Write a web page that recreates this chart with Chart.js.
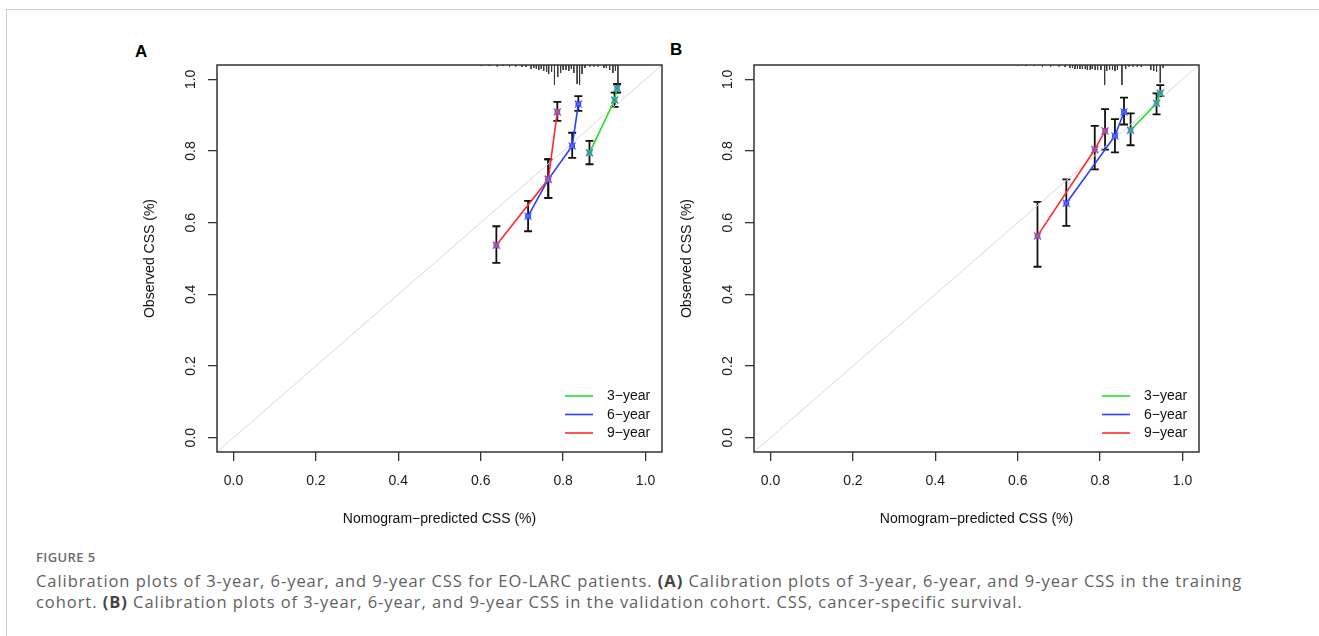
<!DOCTYPE html>
<html>
<head>
<meta charset="utf-8">
<script src="https://cdn.jsdelivr.net/npm/chart.js@4.4.0/dist/chart.umd.min.js"></script>
<style>
  html, body { margin: 0; padding: 0; background: #fff; }
  body { width: 1319px; height: 636px; position: relative; overflow: hidden; font-family: "Liberation Sans", Arial, sans-serif; }
  .frame { position: absolute; left: 6px; top: 9px; width: 1320px; height: 640px; border-top: 1px solid #cfcfcf; border-left: 1px solid #cfcfcf; }
  canvas { position: absolute; }
  .panel { position: absolute; font: bold 17px "Liberation Sans", Arial, sans-serif; color: #000; }
  .figlabel { position: absolute; left: 36px; top: 548px; font: 600 13px "Open Sans", Lato, sans-serif; color: #6b6b6b; letter-spacing: 0.4px; }
  .caption { position: absolute; left: 36px; top: 571px; font: 16.5px "Open Sans", Lato, sans-serif; color: #5f5f5f; line-height: 20.5px; white-space: nowrap; letter-spacing: 0.95px; }
  .caption b { color: #444; font-weight: 700; }
</style>
</head>
<body>
<div class="frame"></div>
<div class="panel" style="left:135px; top:42px;">A</div>
<div class="panel" style="left:670px; top:40px;">B</div>
<canvas id="cA" width="560" height="500" style="left:120px; top:30px;"></canvas>
<canvas id="cB" width="560" height="500" style="left:657px; top:30px;"></canvas>
<div class="figlabel">FIGURE 5</div>
<div class="caption">Calibration plots of 3-year, 6-year, and 9-year CSS for EO-LARC patients. <b>(A)</b> Calibration plots of 3-year, 6-year, and 9-year CSS in the training<br>cohort. <b>(B)</b> Calibration plots of 3-year, 6-year, and 9-year CSS in the validation cohort. CSS, cancer-specific survival.</div>

<script>
// ---------- data ----------
const TICK_VALUES = [0.0, 0.2, 0.4, 0.6, 0.8, 1.0];
const SERIES_LABELS = ['3\u2212year', '6\u2212year', '9\u2212year'];

// Panel A (training cohort)
const predA3 = [0.864, 0.925, 0.931];
const obsA3  = [0.795, 0.942, 0.975];
const loA3   = [0.763, 0.923, 0.963];
const hiA3   = [0.828, 0.963, 0.987];
const predA6 = [0.715, 0.764, 0.822, 0.837];
const obsA6  = [0.618, 0.721, 0.814, 0.931];
const loA6   = [0.576, 0.669, 0.781, 0.912];
const hiA6   = [0.661, 0.777, 0.851, 0.953];
const predA9 = [0.638, 0.764, 0.786];
const obsA9  = [0.537, 0.721, 0.909];
const loA9   = [0.488, 0.669, 0.884];
const hiA9   = [0.590, 0.777, 0.937];
const rugXA    = [0.60, 0.62, 0.64, 0.655, 0.67, 0.685, 0.70, 0.71, 0.722, 0.729, 0.735, 0.741, 0.747, 0.753, 0.760, 0.765, 0.772, 0.779, 0.787, 0.794, 0.800, 0.807, 0.814, 0.820, 0.826, 0.834, 0.840, 0.846, 0.853, 0.865, 0.875, 0.885, 0.899, 0.905, 0.913, 0.921, 0.927, 0.933];
const rugFreqA = [1, 1, 1.5, 1, 1.5, 1.5, 2, 2, 4, 3, 4, 5, 4, 6, 7, 9, 7, 20, 12, 8, 5, 5, 6, 4, 8, 19, 20, 9, 3, 1.5, 1.5, 1.5, 3, 3, 5, 8, 6, 22];

// Panel B (validation cohort)
const predB3 = [0.874, 0.937, 0.946];
const obsB3  = [0.858, 0.933, 0.961];
const loB3   = [0.816, 0.902, 0.953];
const hiB3   = [0.905, 0.961, 0.984];
const predB6 = [0.718, 0.836, 0.858];
const obsB6  = [0.654, 0.842, 0.909];
const loB6   = [0.591, 0.796, 0.874];
const hiB6   = [0.721, 0.889, 0.949];
const predB9 = [0.648, 0.787, 0.812];
const obsB9  = [0.563, 0.804, 0.856];
const loB9   = [0.477, 0.749, 0.804];
const hiB9   = [0.658, 0.870, 0.917];
const rugXB    = [0.60, 0.62, 0.64, 0.66, 0.68, 0.70, 0.715, 0.727, 0.733, 0.739, 0.745, 0.751, 0.757, 0.764, 0.769, 0.776, 0.781, 0.788, 0.794, 0.802, 0.811, 0.816, 0.823, 0.830, 0.836, 0.842, 0.853, 0.862, 0.87, 0.88, 0.89, 0.90, 0.923, 0.930, 0.937, 0.946, 0.953];
const rugFreqB = [1, 1, 1, 1.5, 1.5, 1.5, 2, 3, 3, 4, 4, 4, 4, 4, 5, 5, 4, 5, 5, 5, 20, 6, 5, 5, 6, 5, 20, 4, 1.5, 1.5, 1.5, 2, 5, 6, 7, 18, 3];

// ---------- styling ----------
const AX_MIN = -0.04, AX_MAX = 1.04;
const COLORS = ['#22e022', '#2a3cff', '#ff2a2a'];
const XMARK_COLOR = '#5a6dff';
const FONT = '"Liberation Sans", Arial, sans-serif';
const RUG_UNIT = 1 / 358;

function pts(xs, ys) { return xs.map((x, i) => ({ x: x, y: ys[i] })); }

const boxPlugin = {
  id: 'rbox',
  afterDraw(chart) {
    const { ctx, chartArea: a } = chart;
    ctx.save();
    ctx.strokeStyle = '#333';
    ctx.lineWidth = 1.5;
    ctx.strokeRect(a.left, a.top, a.right - a.left, a.bottom - a.top);
    ctx.restore();
  }
};

const yLabelPlugin = {
  id: 'ylabels',
  afterDraw(chart) {
    const { ctx, chartArea: a } = chart;
    const ys = chart.scales.y;
    ctx.save();
    ctx.fillStyle = '#1a1a1a';
    ctx.font = '14px ' + FONT;
    ctx.textAlign = 'center';
    ctx.textBaseline = 'middle';
    TICK_VALUES.forEach(v => {
      const py = ys.getPixelForValue(v);
      ctx.save();
      ctx.translate(a.left - 26, py);
      ctx.rotate(-Math.PI / 2);
      ctx.fillText(v.toFixed(1), 0, 0);
      ctx.restore();
    });
    ctx.restore();
  }
};

const errPlugin = {
  id: 'errbars',
  beforeDatasetsDraw(chart, args, opts) {
    const { ctx } = chart;
    const xs = chart.scales.x, ys = chart.scales.y;
    ctx.save();
    ctx.strokeStyle = '#111';
    ctx.lineWidth = 1.8;
    (opts.sets || []).forEach(s => {
      s.x.forEach((xv, i) => {
        const px = xs.getPixelForValue(xv);
        const p1 = ys.getPixelForValue(s.lo[i]);
        const p2 = ys.getPixelForValue(s.hi[i]);
        ctx.beginPath();
        ctx.moveTo(px, p1); ctx.lineTo(px, p2);
        ctx.moveTo(px - 4, p1); ctx.lineTo(px + 4, p1);
        ctx.moveTo(px - 4, p2); ctx.lineTo(px + 4, p2);
        ctx.stroke();
      });
    });
    ctx.restore();
  }
};

const legendPlugin = {
  id: 'rlegend',
  afterDraw(chart) {
    const { ctx, chartArea: a } = chart;
    ctx.save();
    ctx.font = '14px ' + FONT;
    ctx.textBaseline = 'middle';
    ctx.textAlign = 'left';
    SERIES_LABELS.forEach((lab, i) => {
      const y = a.bottom - 56 + i * 18.5;
      ctx.strokeStyle = COLORS[i];
      ctx.lineWidth = 1.6;
      ctx.beginPath();
      ctx.moveTo(a.right - 97, y); ctx.lineTo(a.right - 69, y);
      ctx.stroke();
      ctx.fillStyle = '#111';
      ctx.fillText(lab, a.right - 55, y + 0.5);
    });
    ctx.restore();
  }
};

function makeChart(id, p) {
  const rugData = [];
  p.rugX.forEach((x, i) => {
    rugData.push({ x: x, y: AX_MAX });
    rugData.push({ x: x, y: AX_MAX - p.rugF[i] * RUG_UNIT });
    rugData.push({ x: x, y: null });
  });
  const seriesSets = [
    { x: p.pred[0], y: p.obs[0] },
    { x: p.pred[1], y: p.obs[1] },
    { x: p.pred[2], y: p.obs[2] }
  ];
  const allX = [].concat(p.pred[0], p.pred[1], p.pred[2]);
  const allY = [].concat(p.obs[0], p.obs[1], p.obs[2]);

  const datasets = [
    { label: 'xmarks', data: pts(allX, allY), showLine: false, pointStyle: 'crossRot',
      pointRadius: 5, borderColor: XMARK_COLOR, borderWidth: 1.3, order: 1 },
  ];
  seriesSets.forEach((s, i) => {
    datasets.push({ label: SERIES_LABELS[i], data: pts(s.x, s.y), showLine: true,
      borderColor: COLORS[i], backgroundColor: COLORS[i], borderWidth: 1.6,
      pointStyle: 'rect', pointRadius: 4, pointBorderWidth: 0, order: 4 - i });
  });
  datasets.push({ label: 'rug', data: rugData, showLine: true, spanGaps: false,
    borderColor: '#3a3a3a', borderWidth: 1, pointRadius: 0, order: 8 });
  datasets.push({ label: 'ideal', data: [{ x: AX_MIN, y: AX_MIN }, { x: AX_MAX, y: AX_MAX }], showLine: true,
    borderColor: '#d9d9d9', borderWidth: 1, pointRadius: 0, order: 9 });

  const axisCommon = {
    type: 'linear', min: AX_MIN, max: AX_MAX,
    afterBuildTicks: s => { s.ticks = TICK_VALUES.map(v => ({ value: v })); },
    grid: { drawOnChartArea: false, drawTicks: true, tickLength: 9, color: '#333', lineWidth: 1.3 },
    border: { display: false }
  };

  return new Chart(document.getElementById(id), {
    type: 'scatter',
    data: { datasets: datasets },
    options: {
      responsive: false, animation: false, devicePixelRatio: 1,
      layout: { padding: { left: 0, top: 35, right: 18, bottom: 0 } },
      plugins: {
        legend: { display: false }, tooltip: { enabled: false },
        errbars: { sets: [
          { x: p.pred[0], lo: p.lo[0], hi: p.hi[0] },
          { x: p.pred[1], lo: p.lo[1], hi: p.hi[1] },
          { x: p.pred[2], lo: p.lo[2], hi: p.hi[2] }
        ] }
      },
      scales: {
        x: Object.assign({}, axisCommon, {
          position: 'bottom',
          ticks: { callback: v => Number(v).toFixed(1), font: { size: 14, family: FONT }, color: '#1a1a1a',
                   padding: 12, maxRotation: 0, autoSkip: false },
          title: { display: true, text: 'Nomogram\u2212predicted CSS (%)', font: { size: 14, family: FONT },
                   color: '#111', padding: { top: 0, bottom: 2 } },
          afterFit: s => { s.height = 78; }
        }),
        y: Object.assign({}, axisCommon, {
          position: 'left',
          ticks: { callback: v => Number(v).toFixed(1), color: 'rgba(0,0,0,0)', font: { size: 14, family: FONT }, autoSkip: false },
          title: { display: true, text: 'Observed CSS (%)', font: { size: 14, family: FONT },
                   color: '#111', padding: { top: 22, bottom: 0 } },
          afterFit: s => { s.width = 97; }
        })
      }
    },
    plugins: [errPlugin, boxPlugin, yLabelPlugin, legendPlugin]
  });
}

makeChart('cA', {
  pred: [predA3, predA6, predA9], obs: [obsA3, obsA6, obsA9],
  lo: [loA3, loA6, loA9], hi: [hiA3, hiA6, hiA9],
  rugX: rugXA, rugF: rugFreqA
});
makeChart('cB', {
  pred: [predB3, predB6, predB9], obs: [obsB3, obsB6, obsB9],
  lo: [loB3, loB6, loB9], hi: [hiB3, hiB6, hiB9],
  rugX: rugXB, rugF: rugFreqB
});
</script>
</body>
</html>
